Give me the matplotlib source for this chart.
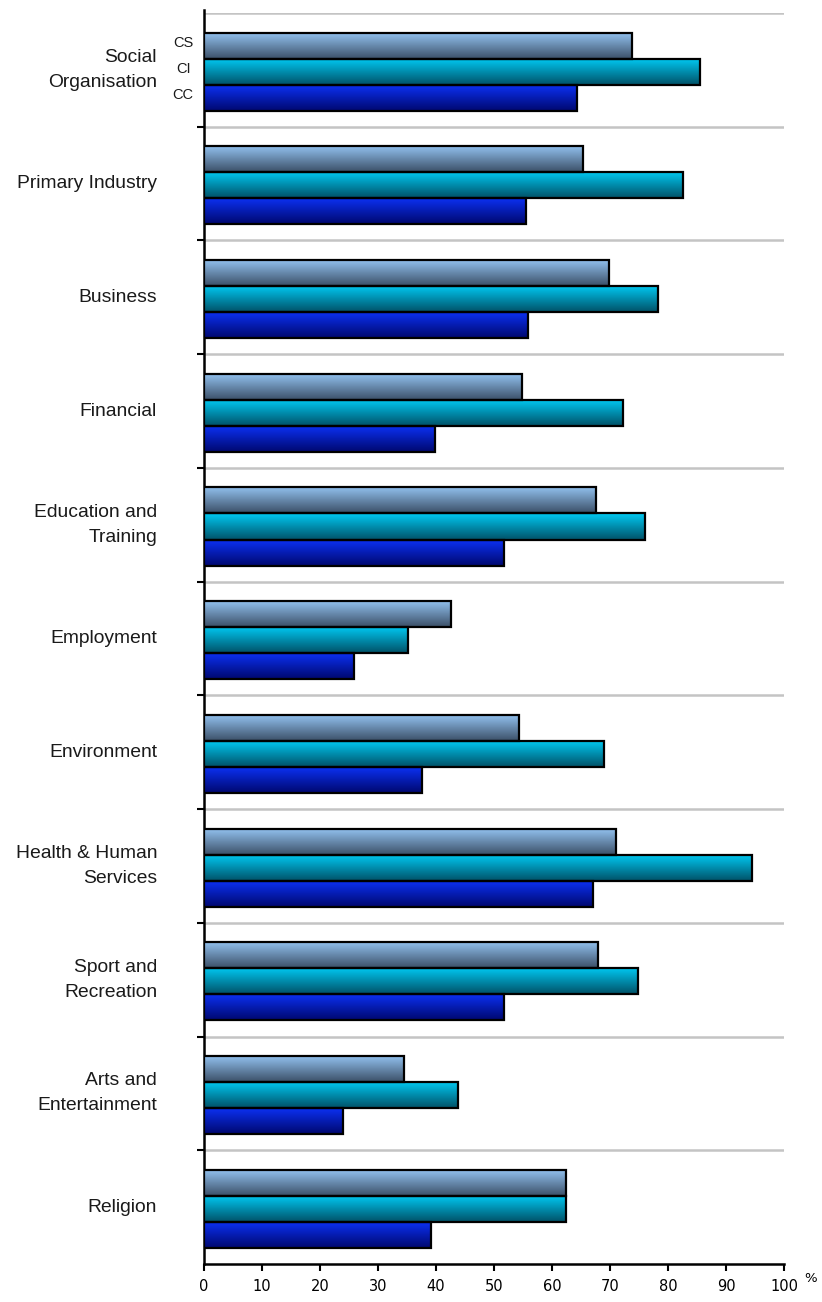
import numpy as np
import matplotlib
matplotlib.use("Agg")
import matplotlib.pyplot as plt
from matplotlib.colors import to_rgb

# DATA
categories = ["Social\nOrganisation", "Primary Industry", "Business", "Financial",
              "Education and\nTraining", "Employment", "Environment",
              "Health & Human\nServices", "Sport and\nRecreation",
              "Arts and\nEntertainment", "Religion"]
series = ["CS", "CI", "CC"]
cs_vals = [73.8, 65.3, 69.9, 54.8, 67.5, 42.5, 54.3, 71.0, 67.9, 34.4, 62.4]
ci_vals = [85.5, 82.6, 78.2, 72.2, 76.1, 35.1, 69.0, 94.4, 74.8, 43.8, 62.4]
cc_vals = [64.3, 55.5, 55.8, 39.9, 51.8, 25.8, 37.6, 67.1, 51.8, 24.0, 39.2]
x_ticks = list(range(0, 101, 10))

# top colour -> bottom colour of each bar's shading
shades = {
    "CS": ("#94c4f2", "#3c5068"),
    "CI": ("#00caf4", "#005268"),
    "CC": ("#0c32f6", "#000870"),
}


def gradient(top, bottom, n=64):
    t = np.linspace(0, 1, n)[:, None]
    a = np.array(to_rgb(top))
    b = np.array(to_rgb(bottom))
    return (a * (1 - t) + b * t)[:, None, :]


fig = plt.figure(figsize=(8.22, 13.02), dpi=100)
ax = fig.add_axes([0.2482, 0.0292, 0.7056, 0.9608])

n = len(categories)
centers = np.arange(n) + 0.515
h = 0.229
offsets = [-h, 0.0, h]
values = [cs_vals, ci_vals, cc_vals]

for s, off, vals in zip(series, offsets, values):
    img = gradient(*shades[s])
    bars = ax.barh(centers + off, vals, height=h, facecolor="none",
                   edgecolor="black", linewidth=1.6, zorder=4)
    for b in bars:
        x0 = b.get_x()
        x1 = x0 + b.get_width()
        y0 = b.get_y()
        y1 = y0 + b.get_height()
        ax.imshow(img, extent=(x0, x1, y1, y0), origin="upper",
                  aspect="auto", interpolation="bilinear", zorder=3)

# separators between groups
for yy in range(0, n):
    ax.axhline(yy, color="#c4c4c4", linewidth=1.8, zorder=1)

ax.set_xlim(0, 100)
ax.set_ylim(n, 0)
ax.set_xticks(x_ticks)
ax.set_xticklabels([str(v) for v in x_ticks], fontsize=10.5, family="DejaVu Sans")
ax.set_yticks(range(1, n))
ax.set_yticklabels([])
ax.tick_params(axis="both", direction="out", length=5, width=1.5, color="black")
ax.tick_params(axis="x", pad=6)

for side in ["top", "right"]:
    ax.spines[side].set_visible(False)
for side in ["left", "bottom"]:
    ax.spines[side].set_linewidth(1.8)
ax.spines["left"].set_bounds(n, -0.03)

# category labels
for c, lab in zip(centers, categories):
    ax.text(-8.1, c - 0.015, lab, ha="right", va="center", fontsize=13.9,
            family="Liberation Sans", linespacing=1.6, color="#1a1a1a")

# series labels on first group
for s, off in zip(series, offsets):
    ax.text(-3.6, centers[0] + off - 0.02, s, ha="center", va="center",
            fontsize=10.5, family="Liberation Sans", color="#1a1a1a")

ax.text(1.045, -0.012, "%", transform=ax.transAxes, ha="center", va="center",
        fontsize=9.5, family="DejaVu Sans")

fig.savefig("out.png", dpi=100)
